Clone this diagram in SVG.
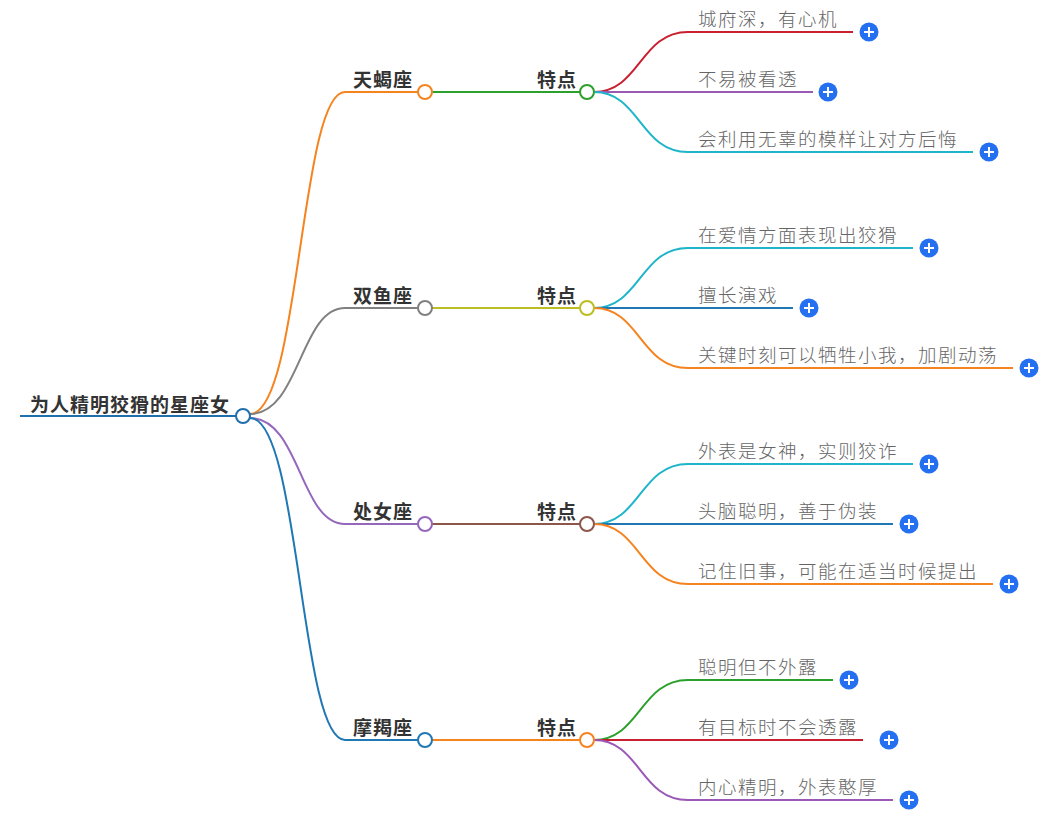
<svg xmlns="http://www.w3.org/2000/svg" width="1054" height="821" viewBox="0 0 1054 821">
<style>
text{font-family:"Noto Sans CJK SC","Liberation Sans",sans-serif}
.b{font-size:19px;font-weight:bold;fill:#333;letter-spacing:1px}
.l{font-size:18.5px;fill:#666;letter-spacing:1.5px;font-weight:300}
path{fill:none;stroke-width:2}
.c{fill:#fff;stroke-width:2}
.p circle{fill:#2570f0}
.p path{stroke:#fff;stroke-width:2}
</style>
<rect width="1054" height="821" fill="#fff"/>
<g id="connectors">
<path d="M20 416H236" stroke="#1f6fad" stroke-width="4"/>
<path d="M250 414C300 414 300 92 345 92H418" stroke="#f5841f"/>
<path d="M250 414C300 414 300 308 345 308H418" stroke="#808080"/>
<path d="M250 418C300 418 300 524 345 524H418" stroke="#9467bd"/>
<path d="M250 418C300 418 300 740 345 740H418" stroke="#1f77b4"/>
<path d="M432 92H580" stroke="#2ca02c"/>
<path d="M432 308H580" stroke="#bcbd22"/>
<path d="M432 524H580" stroke="#8c564b"/>
<path d="M432 740H580" stroke="#f5841f"/>
<g id="l1">
<path d="M594 92C640 92 640 32 688 32H853" stroke="#c8202f"/>
<path d="M594 92H813" stroke="#9b59b6"/>
<path d="M594 92C640 92 640 152 688 152H973" stroke="#1fb5c9"/>
<path d="M594 308C640 308 640 248 688 248H913" stroke="#1fb5c9"/>
<path d="M594 308H793" stroke="#1f77b4"/>
<path d="M594 308C640 308 640 368 688 368H1013" stroke="#f5841f"/>
<path d="M594 524C640 524 640 464 688 464H913" stroke="#1fb5c9"/>
<path d="M594 524H893" stroke="#1f77b4"/>
<path d="M594 524C640 524 640 584 688 584H993" stroke="#f5841f"/>
<path d="M594 740C640 740 640 680 688 680H833" stroke="#2ca02c"/>
<path d="M594 740H863" stroke="#c8202f"/>
<path d="M594 740C640 740 640 800 688 800H893" stroke="#9b59b6"/>
</g>
</g>
<g id="root"><text class="b" x="30" y="412">为人精明狡猾的星座女</text><circle class="c" cx="243" cy="416" r="7" stroke="#1f6fad"/></g>
<g id="n1"><text class="b" x="413" y="87" text-anchor="end">天蝎座</text><circle class="c" cx="425" cy="92" r="7" stroke="#f5841f"/></g>
<g id="n2"><text class="b" x="413" y="303" text-anchor="end">双鱼座</text><circle class="c" cx="425" cy="308" r="7" stroke="#808080"/></g>
<g id="n3"><text class="b" x="413" y="519" text-anchor="end">处女座</text><circle class="c" cx="425" cy="524" r="7" stroke="#9467bd"/></g>
<g id="n4"><text class="b" x="413" y="735" text-anchor="end">摩羯座</text><circle class="c" cx="425" cy="740" r="7" stroke="#1f77b4"/></g>
<g id="t1"><text class="b" x="577" y="87" text-anchor="end">特点</text><circle class="c" cx="587" cy="92" r="7" stroke="#2ca02c"/></g>
<g id="t2"><text class="b" x="577" y="303" text-anchor="end">特点</text><circle class="c" cx="587" cy="308" r="7" stroke="#bcbd22"/></g>
<g id="t3"><text class="b" x="577" y="519" text-anchor="end">特点</text><circle class="c" cx="587" cy="524" r="7" stroke="#8c564b"/></g>
<g id="t4"><text class="b" x="577" y="735" text-anchor="end">特点</text><circle class="c" cx="587" cy="740" r="7" stroke="#f5841f"/></g>
<defs><g id="plus" class="p"><circle r="9.5"/><path d="M-5 0H5M0 -5V5"/></g></defs>
<g id="a1"><text class="l" x="698" y="26">城府深，有心机</text><use href="#plus" x="869" y="32"/></g>
<g id="a2"><text class="l" x="698" y="86">不易被看透</text><use href="#plus" x="828" y="92"/></g>
<g id="a3"><text class="l" x="698" y="146">会利用无辜的模样让对方后悔</text><use href="#plus" x="989" y="152"/></g>
<g id="b1"><text class="l" x="698" y="242">在爱情方面表现出狡猾</text><use href="#plus" x="929" y="248"/></g>
<g id="b2"><text class="l" x="698" y="302">擅长演戏</text><use href="#plus" x="809" y="308"/></g>
<g id="b3"><text class="l" x="698" y="362">关键时刻可以牺牲小我，加剧动荡</text><use href="#plus" x="1029" y="368"/></g>
<g id="c1"><text class="l" x="698" y="458">外表是女神，实则狡诈</text><use href="#plus" x="929" y="464"/></g>
<g id="c2"><text class="l" x="698" y="518">头脑聪明，善于伪装</text><use href="#plus" x="909" y="524"/></g>
<g id="c3"><text class="l" x="698" y="578">记住旧事，可能在适当时候提出</text><use href="#plus" x="1009" y="584"/></g>
<g id="d1"><text class="l" x="698" y="674">聪明但不外露</text><use href="#plus" x="849" y="680"/></g>
<g id="d2"><text class="l" x="698" y="734">有目标时不会透露</text><use href="#plus" x="889" y="740"/></g>
<g id="d3"><text class="l" x="698" y="794">内心精明，外表憨厚</text><use href="#plus" x="909" y="800"/></g>
</svg>
